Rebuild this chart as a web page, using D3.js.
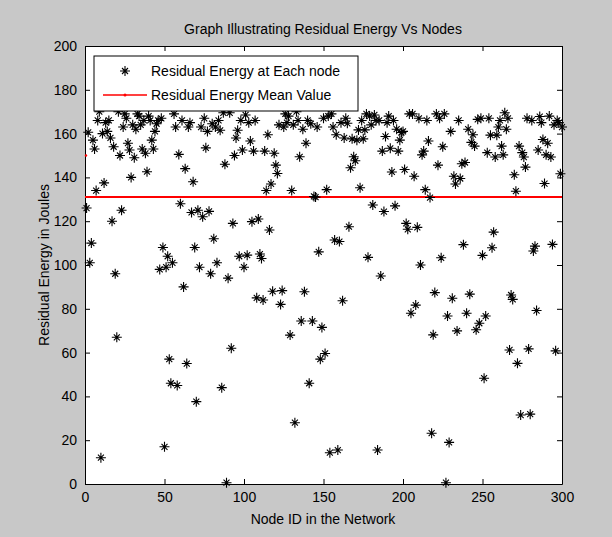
<!DOCTYPE html>
<html><head><meta charset="utf-8">
<script src="https://cdn.jsdelivr.net/npm/d3@7/dist/d3.min.js"></script>
<style>body{margin:0;background:#c8c8c8;}svg{display:block;}</style>
</head><body>
<script>
// Residual energy of each node (node IDs 1..300)
const energy = [
126,160.6,101,110,157,153,134,166,170,12,
160,137.5,165,161,166,158,120,154,96,67,
170,150,125,163,169,167,155.6,152.5,140,164,
149,162,169,168,164,153,166,151,142.6,168,
166,157,153,161,164.5,166,98,167,108,17,
99,104,57,46,101,169,163,45,150.5,128,
166,90,144,55,163,165,124,138,108,37.6,
125,99,163,122,167,153.5,161,124.5,96,164.5,
112,163,101,166,161.5,44,169.5,146,0.6,94,
169.5,62,119,150,158,161.5,104,166,152.5,99,
168.5,104.5,165,156.6,119.8,152,166,85,121,105,
103,84,152,134,159.5,116,137,88,151,145.6,
141.8,164,82,88.3,163,169,165,168,68,134,
164,28,170,166,149.4,74.4,162,87.8,155.6,166,
46,164.5,74.4,131.3,131,163,106,57,71.5,167,
59.6,134.4,168,14.3,169,163,111.4,159.5,15.5,110.7,
165,83.7,158,167,164.7,117.5,144.4,157.6,149.4,147.6,
157,161.7,135.3,166,157.6,161.7,169,103.5,168,164,
127.4,168.5,166,15.5,166,95,152,124.4,158.7,165,
168,153.3,142.5,166,127,162,152,157,160.5,161,
143.6,119,116.3,169,78,169,140.5,81.7,117.2,167,
100,150.3,152,134.4,166,156.6,130.8,23.2,68.1,87.4,
169,145.6,167,103.3,154,169,0.6,76.7,19,161,
84.8,140.5,137,69.9,166,139.5,146.2,109.3,146.8,78,
162,86.7,156,159.5,154.3,70.4,166.5,73.4,167,104.4,
48.3,76.7,151.3,167,159.3,107.9,115,149.3,159.3,163,
166,154.3,150.3,169.5,162,167,61.2,86.3,84.3,141.2,
133.7,55.1,154.3,31.5,151.3,149.3,144.7,167,61.7,31.9,
166,106.4,108.6,79.2,152.5,167.8,165,157.3,137.2,150.3,
155.6,168,149.3,109.4,164,60.8,166,165,141.7,163
];
const nodeIds = energy.map((_, i) => i + 1);
const meanValue = 131;
const meanPoint = [0, 150];
const xTicks = [0, 50, 100, 150, 200, 250, 300];
const yTicks = [0, 20, 40, 60, 80, 100, 120, 140, 160, 180, 200];
const titleText = "Graph Illustrating Residual Energy Vs Nodes";
const xLabel = "Node ID in the Network";
const yLabel = "Residual Energy in Joules";
const legendLabels = ["Residual Energy at Each node", "Residual Energy Mean Value"];

const W = 612, H = 537;
const m = {left: 85, right: 50, top: 46, bottom: 53};
const svg = d3.select("body").append("svg").attr("width", W).attr("height", H)
  .style("font-family", "'Liberation Sans', Arial, sans-serif");
svg.append("rect").attr("width", W).attr("height", H).attr("fill", "#c8c8c8");

const x = d3.scaleLinear().domain([0, 300]).range([m.left, W - m.right]);
const y = d3.scaleLinear().domain([0, 200]).range([H - m.bottom, m.top]);

svg.append("rect").attr("x", x(0)).attr("y", y(200))
  .attr("width", x(300) - x(0)).attr("height", y(0) - y(200)).attr("fill", "#fff");

// axes with inward ticks
const tickLen = 5;
const ax = (g) => g.selectAll(".domain").attr("stroke", "#000");
svg.append("g").attr("transform", `translate(0,${y(0)})`)
  .call(d3.axisBottom(x).tickValues(xTicks).tickSizeInner(-tickLen).tickSizeOuter(0).tickPadding(8))
  .call(ax).call(g => g.selectAll("text").attr("font-size", 14).attr("fill", "#000"));
svg.append("g").attr("transform", `translate(0,${y(200)})`)
  .call(d3.axisTop(x).tickValues(xTicks).tickSizeInner(-tickLen).tickSizeOuter(0).tickFormat(""))
  .call(ax);
svg.append("g").attr("transform", `translate(${x(0)},0)`)
  .call(d3.axisLeft(y).tickValues(yTicks).tickSizeInner(-tickLen).tickSizeOuter(0).tickPadding(8))
  .call(ax).call(g => g.selectAll("text").attr("font-size", 14).attr("fill", "#000"));
svg.append("g").attr("transform", `translate(${x(300)},0)`)
  .call(d3.axisRight(y).tickValues(yTicks).tickSizeInner(-tickLen).tickSizeOuter(0).tickFormat(""))
  .call(ax);
svg.selectAll(".tick line").attr("stroke", "#000");

// star marker path
const star = "M-5,0L5,0M0,-5L0,5M-3,-3L3,3M-3,3L3,-3";

// mean line
svg.append("line").attr("x1", x(0)).attr("x2", x(300))
  .attr("y1", y(meanValue)).attr("y2", y(meanValue))
  .attr("stroke", "#ff0000").attr("stroke-width", 2);
svg.append("circle").attr("cx", x(meanPoint[0]) + 1).attr("cy", y(meanPoint[1])).attr("r", 1.2).attr("fill", "#ff0000");

// points
svg.append("g").selectAll("path").data(energy).join("path")
  .attr("transform", (d, i) => `translate(${x(nodeIds[i])},${y(d)})`)
  .attr("d", star).attr("stroke", "#000").attr("stroke-width", 1.1).attr("fill", "none");

// legend
const lg = svg.append("g");
lg.append("rect").attr("x", 94).attr("y", 56).attr("width", 264).attr("height", 55)
  .attr("fill", "#fff").attr("stroke", "#000").attr("stroke-width", 1);
lg.append("path").attr("transform", "translate(125,71)").attr("d", star)
  .attr("stroke", "#000").attr("stroke-width", 1.1);
lg.append("text").attr("x", 151).attr("y", 76).attr("font-size", 14).text(legendLabels[0]);
lg.append("line").attr("x1", 103).attr("x2", 147).attr("y1", 95).attr("y2", 95)
  .attr("stroke", "#ff0000").attr("stroke-width", 1.5);
lg.append("circle").attr("cx", 125).attr("cy", 95).attr("r", 1.5).attr("fill", "#ff0000");
lg.append("text").attr("x", 151).attr("y", 100).attr("font-size", 14).text(legendLabels[1]);

// titles
svg.append("text").attr("x", 323).attr("y", 34).attr("text-anchor", "middle")
  .attr("font-size", 14).text(titleText);
svg.append("text").attr("x", 323).attr("y", 524).attr("text-anchor", "middle")
  .attr("font-size", 14).text(xLabel);
svg.append("text").attr("transform", `translate(49,${(y(0)+y(200))/2}) rotate(-90)`)
  .attr("text-anchor", "middle").attr("font-size", 14).text(yLabel);
</script>
</body></html>
